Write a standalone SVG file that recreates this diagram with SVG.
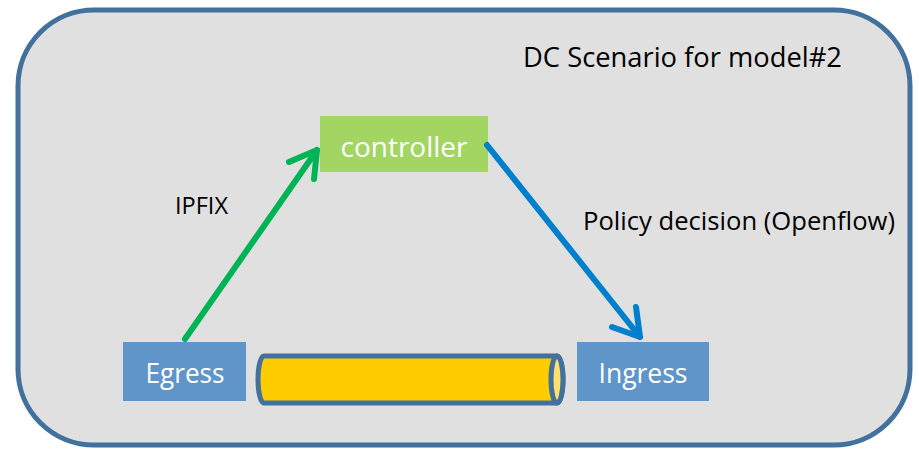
<svg xmlns="http://www.w3.org/2000/svg" width="919" height="449" viewBox="0 0 919 449">
  <style>
    .lbl { font-family: "Open Sans", "Liberation Sans", sans-serif; fill: #000; }
    .node-text { font-family: "Open Sans", "Liberation Sans", sans-serif; font-size: 28px; fill: #fff; text-anchor: middle; }
    .conn { fill: none; stroke-width: 6; stroke-linecap: round; stroke-linejoin: round; }
  </style>
  <rect width="919" height="449" fill="#ffffff"/>
  <!-- data centre frame -->
  <g id="frame">
    <rect x="18" y="10" width="892" height="435" rx="76" ry="76" fill="#e0e0e0" stroke="#41719c" stroke-width="5"/>
    <text class="lbl" x="523" y="67" font-size="27" textLength="319" lengthAdjust="spacingAndGlyphs">DC Scenario for model#2</text>
  </g>

  <g id="controller">
    <rect x="320" y="116" width="168" height="56" fill="#a2d562"/>
    <text class="node-text" x="404" y="157" textLength="127" lengthAdjust="spacingAndGlyphs">controller</text>
  </g>

  <g id="egress">
    <rect x="123" y="342" width="123" height="59" fill="#5f95c9"/>
    <text class="node-text" x="185" y="383" textLength="79" lengthAdjust="spacingAndGlyphs">Egress</text>
  </g>

  <g id="ingress">
    <rect x="577" y="342" width="132" height="59" fill="#5f95c9"/>
    <text class="node-text" x="643" y="383" textLength="89" lengthAdjust="spacingAndGlyphs">Ingress</text>
  </g>

  <!-- tunnel between egress and ingress -->
  <g id="tunnel">
    <path d="M 264 356 L 557 356 A 6 23.5 0 0 1 557 403 L 264 403 A 6 23.5 0 0 1 264 356 Z" fill="#ffcc00" stroke="#41719c" stroke-width="5"/>
    <ellipse cx="557" cy="379.5" rx="6" ry="23.5" fill="#ffdf70" stroke="#41719c" stroke-width="5"/>
  </g>

  <g id="connectors">
    <!-- IPFIX export: egress to controller -->
    <path class="conn" stroke="#00b456" d="M 185 339 L 317 150"/>
    <path class="conn" stroke="#00b456" d="M 289 162 L 317 150 L 314 179"/>
    <text class="lbl" x="175" y="214" font-size="24" textLength="53" lengthAdjust="spacingAndGlyphs">IPFIX</text>
    <!-- policy decision: controller to ingress -->
    <path class="conn" stroke="#0080cc" d="M 487 145 L 640 337"/>
    <path class="conn" stroke="#0080cc" d="M 612 327 L 640 337 L 636 307"/>
    <text class="lbl" x="583" y="230" font-size="26" textLength="312" lengthAdjust="spacingAndGlyphs">Policy decision (Openflow)</text>
  </g>
</svg>
